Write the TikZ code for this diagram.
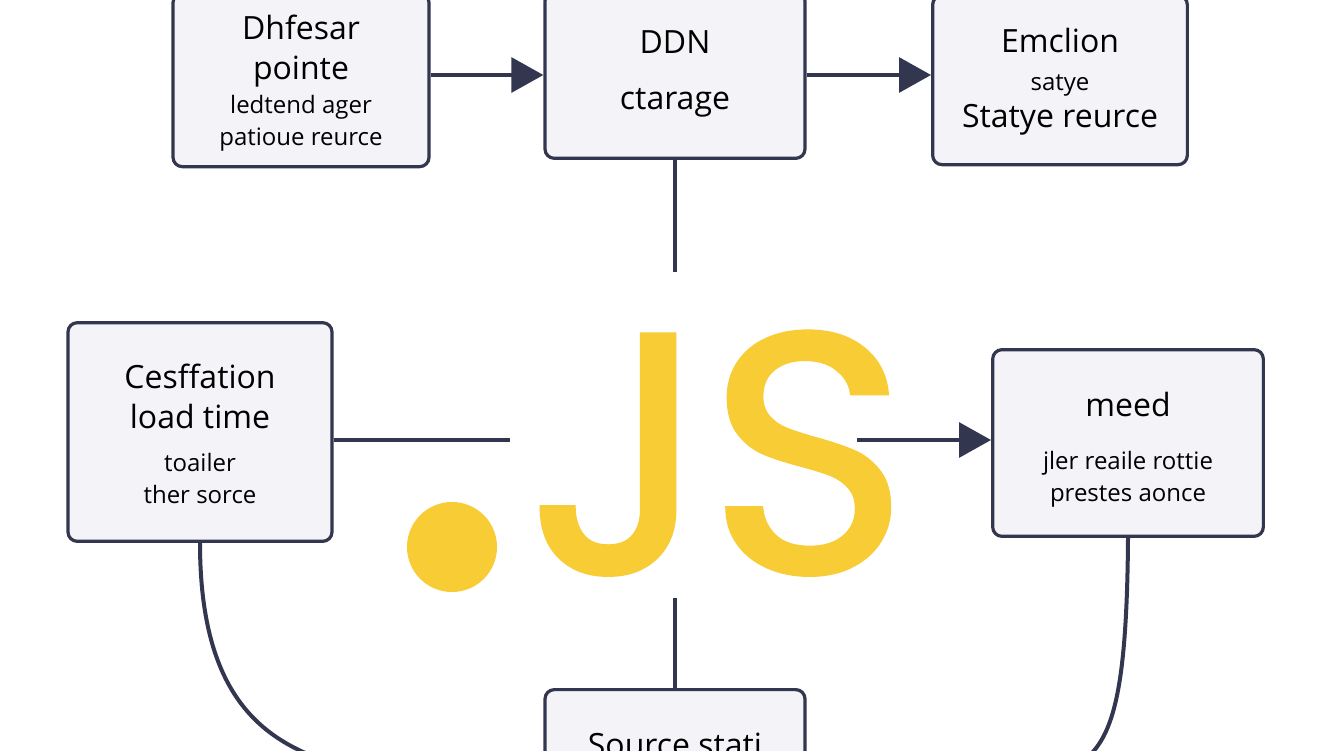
\documentclass[tikz,border=0pt]{standalone}
\usepackage{fontspec}
\setmainfont{Open Sans}
\newfontfamily\jsfont[FakeBold=1.5]{Poppins}
\usetikzlibrary{arrows.meta}
\definecolor{ink}{HTML}{33364F}
\definecolor{boxfill}{HTML}{F3F3F8}
\definecolor{jsy}{HTML}{F7CC35}
\newcommand\Smt[1]{{\fontsize{18}{23}\selectfont #1}}
\tikzset{
 box/.style={draw=ink, line width=2.4pt, fill=boxfill, rounded corners=7pt, align=center, inner sep=0pt},
 lbl/.style={align=center, font=\fontsize{24}{30}\selectfont},
 conn/.style={draw=ink, line width=3pt},
 arr/.style={conn, -{Triangle[length=24pt,width=26pt]}},
}
\begin{document}
\begin{tikzpicture}[x=0.75pt,y=-0.75pt]
\useasboundingbox (0,0) rectangle (1344,750);
\fill[white] (0,0) rectangle (1344,750);
\node[box, minimum width=192pt, minimum height=130pt] (A) at (301,80) {};
\node[lbl] (At) at (301,83) {Dhfesar\\pointe\\[-4pt]\Smt{ledtend ager}\\[-6pt]\Smt{patioue reurce}};
\node[box, minimum width=195pt, minimum height=125pt] (B) at (675,75) {};
\node[lbl] (Bt) at (675,74) {DDN\\[12pt]ctarage};
\node[box, minimum width=191pt, minimum height=127pt] (C) at (1060,80) {};
\node[lbl] (Ct) at (1060,82) {Emclion\\[-2pt]\Smt{satye}\\[-2pt]Statye reurce};
\node[box, minimum width=198pt, minimum height=164pt] (D) at (200,432) {};
\node[lbl] (Dt) at (200,434) {Cesffation\\load time\\[2pt]\Smt{toailer}\\[-6pt]\Smt{ther sorce}};
\node[box, minimum width=203pt, minimum height=140pt] (E) at (1128,443) {};
\node[lbl] (Et) at (1128,450) {meed\\[10pt]\Smt{jler reaile rottie}\\[-6pt]\Smt{prestes aonce}};
\node[box, minimum width=195pt, minimum height=60pt, anchor=north] (F) at (675,688) {};
\node[lbl, anchor=north] (Ft) at (675,728) {Source stati};
% JS logo
\fill[jsy] (452,547) circle[radius=45];
\node[text=jsy, font=\jsfont\fontsize{255}{255}\selectfont, inner sep=0pt, anchor=base west] (JS) at (528,572) {JS};
\coordinate (Bend) at (675,272);
\coordinate (Dend) at (510,440);
\coordinate (Estart) at (857,440);
\coordinate (Fstart) at (675,598);
\coordinate (Dcurve) at (310,755);
\coordinate (Ecurve) at (1090,755);
\draw[arr] (A.east |- 0,75) -- (B.west |- 0,75);
\draw[arr] (B.east |- 0,75) -- (C.west |- 0,75);
\draw[conn] (B.south) -- (Bend);
\draw[conn] (D.east |- 0,440) -- (Dend);
\draw[arr] (Estart) -- (E.west |- 0,440);
\draw[conn] (Fstart) -- (F.north);
\draw[conn] (D.south) .. controls (200,680) and (250,730) .. (Dcurve);
\draw[conn] (E.south) .. controls (1127,680) and (1115,730) .. (Ecurve);
\end{tikzpicture}
\end{document}
